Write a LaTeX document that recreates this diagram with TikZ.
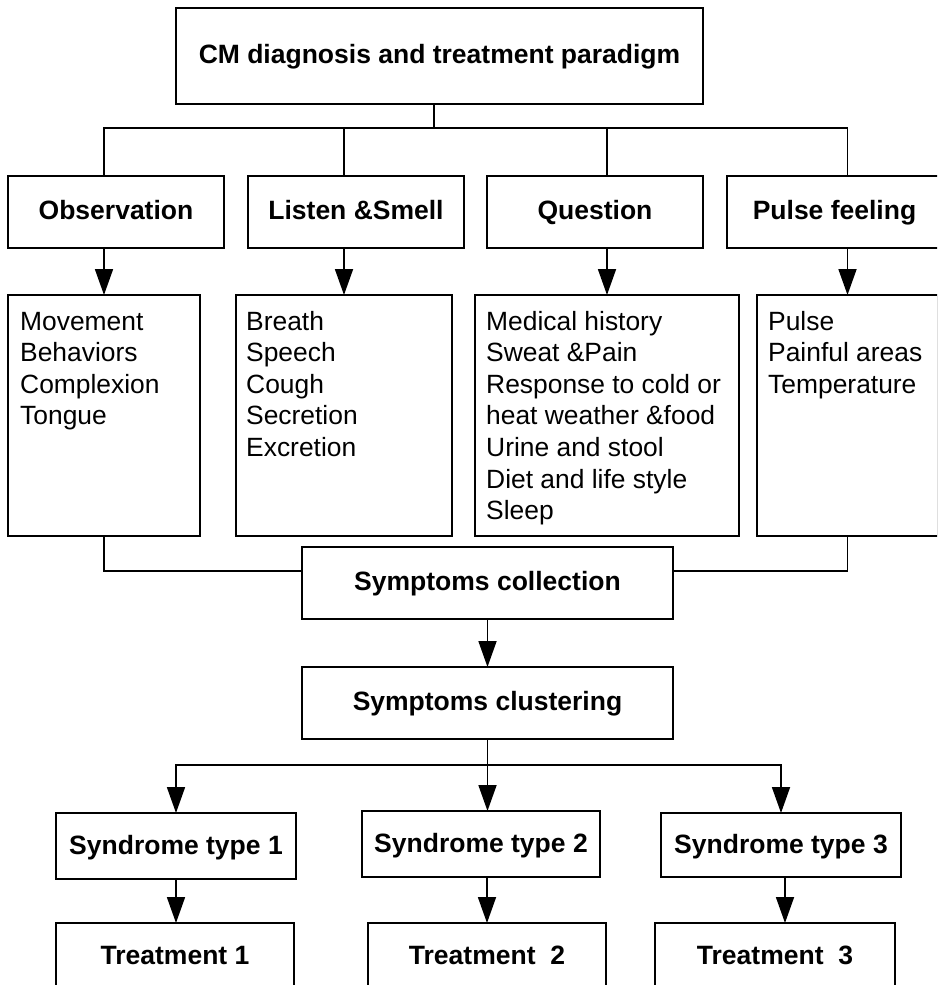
\documentclass[tikz,border=0pt]{standalone}
\usepackage{fontspec}
\setmainfont{Liberation Sans}
\usetikzlibrary{arrows.meta}
\begin{document}
\begin{tikzpicture}[x=1pt,y=-1pt,
  box/.style={draw, line width=1.8pt, rectangle, inner sep=0pt, outer sep=0pt, anchor=north west,
    font=\bfseries\fontsize{26.5}{30}\selectfont, text height=20pt, text depth=6pt},
  lbl/.style={anchor=base west, inner sep=0pt, font=\fontsize{26.4}{30}\selectfont},
  conn/.style={line width=1.8pt},
  arr/.style={conn, -{Triangle[length=26pt,width=18pt]}}]
\clip (0,0) rectangle (937,985);
\fill[white] (0,0) rectangle (937,985);
% boxes
\node[box, minimum width=527pt, minimum height=96pt] (top) at (176,8) {CM diagnosis and treatment paradigm};
\node[box, minimum width=216pt, minimum height=72pt] (obs) at (8,176) {Observation};
\node[box, minimum width=216pt, minimum height=72pt] (lis) at (248,176) {Listen \&Smell};
\node[box, minimum width=216pt, minimum height=72pt] (que) at (487,176) {Question};
\node[box, minimum width=215pt, minimum height=72pt] (pul) at (727,176) {Pulse feeling};
\node[box, minimum width=192pt, minimum height=241pt] (obsl) at (8,295) {};
\node[box, minimum width=216pt, minimum height=241pt] (lisl) at (236,295) {};
\node[box, minimum width=264pt, minimum height=241pt] (quel) at (475,295) {};
\node[box, minimum width=181pt, minimum height=241pt] (pull) at (757,295) {};
\node[box, minimum width=371pt, minimum height=72pt] (coll) at (302,547) {Symptoms collection};
\node[box, minimum width=371pt, minimum height=72pt] (clus) at (302,667) {Symptoms clustering};
\node[box, minimum width=240pt, minimum height=66pt, text height=21pt, text depth=5pt] (syn1) at (56,813) {Syndrome type 1};
\node[box, minimum width=238pt, minimum height=66pt, text height=21pt, text depth=5pt] (syn2) at (362,811) {Syndrome type 2};
\node[box, minimum width=240pt, minimum height=64pt, text height=21pt, text depth=5pt] (syn3) at (661,813) {Syndrome type 3};
\node[box, minimum width=238pt, minimum height=68pt] (tr1) at (56,923) {Treatment 1};
\node[box, minimum width=238pt, minimum height=68pt] (tr2) at (368,923) {Treatment\ \ 2};
\node[box, minimum width=240pt, minimum height=68pt] (tr3) at (655,923) {Treatment\ \ 3};
% list texts
\foreach \t [count=\i from 0] in {Movement,Behaviors,Complexion,Tongue}
  \node[lbl] (obst\i) at (20,{330+31.6*\i}) {\t};
\foreach \t [count=\i from 0] in {Breath,Speech,Cough,Secretion,Excretion}
  \node[lbl] (list\i) at (246,{330+31.6*\i}) {\t};
\foreach \t [count=\i from 0] in {Medical history,Sweat \&Pain,Response to cold or,heat weather \&food,Urine and stool,Diet and life style,Sleep}
  \node[lbl] (quet\i) at (486,{330+31.6*\i}) {\t};
\foreach \t [count=\i from 0] in {Pulse,Painful areas,Temperature}
  \node[lbl] (pult\i) at (768,{330+31.6*\i}) {\t};
% connectors
\coordinate (tb) at (434,128);
\draw[conn] (tb |- top.south) -- (tb);
\draw[conn] (obsl.north |- obs.north) |- (pull.north |- tb) -- (pull.north |- pul.north);
\draw[conn] (lisl.north |- tb) -- (lisl.north |- lis.north);
\draw[conn] (quel.north |- tb) -- (quel.north |- que.north);
\draw[arr] (obsl.north |- obs.south) -- (obsl.north);
\draw[arr] (lisl.north |- lis.south) -- (lisl.north);
\draw[arr] (quel.north |- que.south) -- (quel.north);
\draw[arr] (pull.north |- pul.south) -- (pull.north);
\coordinate (cj) at (0,571);
\draw[conn] (obsl.south) |- (coll.west |- cj);
\draw[conn] (pull.south) |- (coll.east |- cj);
\draw[arr] (coll.south) -- (clus.north);
\coordinate (sb) at (0,765);
\draw[conn] (clus.south) -- (clus.south |- sb);
\draw[arr] (clus.south |- sb) -| (syn1.north);
\draw[arr] (clus.south |- sb) -| (syn3.north);
\draw[arr] (clus.south |- sb) -- (clus.south |- syn2.north);
\draw[arr] (syn1.south) -- (syn1.south |- tr1.north);
\draw[arr] (tr2.north |- syn2.south) -- (tr2.north);
\coordinate (t3) at (785,0);
\draw[arr] (t3 |- syn3.south) -- (t3 |- tr3.north);
\end{tikzpicture}
\end{document}
